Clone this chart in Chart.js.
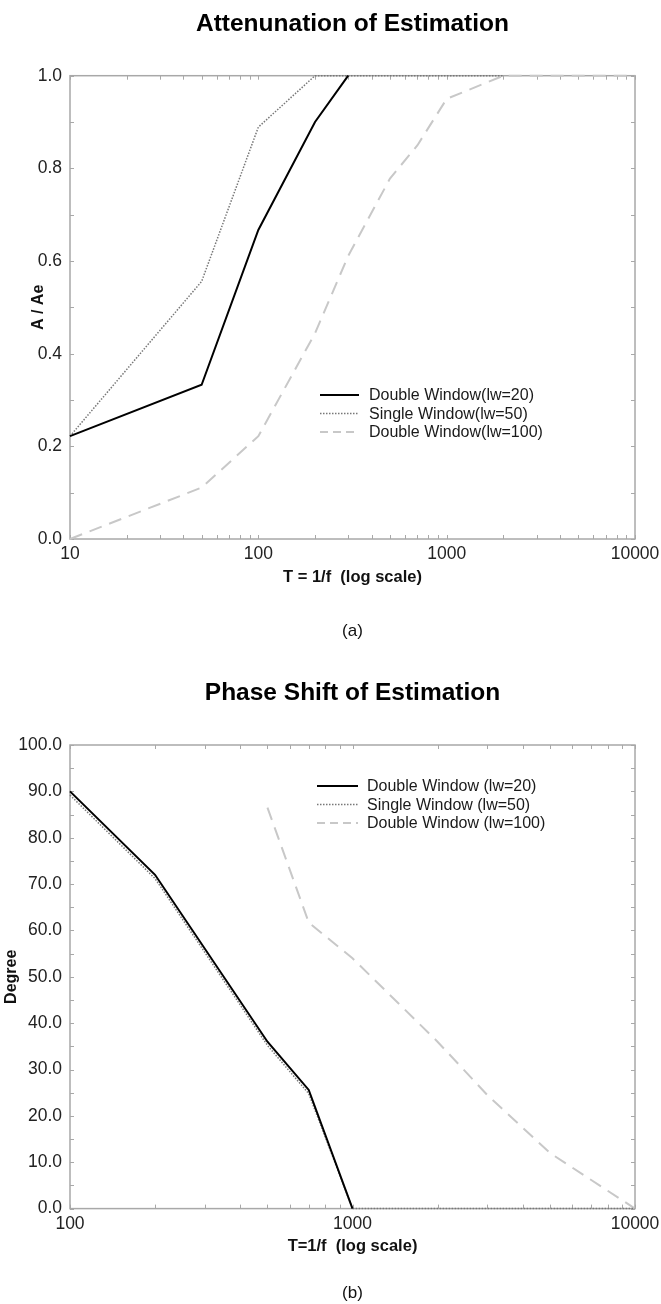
<!DOCTYPE html>
<html>
<head>
<meta charset="utf-8">
<script src="https://cdn.jsdelivr.net/npm/chart.js@4.4.1/dist/chart.umd.min.js"></script>
<style>
  body { margin: 0; background: #fff; }
  canvas { display: block; }
</style>
</head>
<body>
<canvas id="chartAtt" width="661" height="660"></canvas>
<canvas id="chartPhase" width="661" height="644"></canvas>
<script>
// (a) attenuation, A / Ae against period T
const attXTicks = [10, 100, 1000, 10000];
const attYTicks = [0, 0.2, 0.4, 0.6, 0.8, 1.0];
const attDouble20X = [10, 50, 100, 200, 300];
const attDouble20Y = [0.222, 0.333, 0.667, 0.9, 1.0];
const attSingle50X = [10, 50, 100, 200, 2000];
const attSingle50Y = [0.222, 0.556, 0.889, 1.0, 1.0];
const attDouble100X = [10, 50, 100, 200, 300, 500, 700, 1000, 2000, 10000];
const attDouble100Y = [0, 0.111, 0.222, 0.444, 0.611, 0.778, 0.85, 0.95, 1.0, 1.0];

// (b) phase shift in degrees
const phXTicks = [100, 1000, 10000];
const phYTicks = [0, 10, 20, 30, 40, 50, 60, 70, 80, 90, 100];
const phDouble20X = [100, 200, 500, 700, 1000];
const phDouble20Y = [90, 72, 36, 25.6, 0];
const phSingle50X = [100, 200, 500, 700, 1000, 10000];
const phSingle50Y = [89.2, 71.2, 35.2, 24.8, 0, 0];
const phDouble100X = [500, 700, 1000, 2000, 3000, 5000, 10000];
const phDouble100Y = [86.5, 61.7, 54, 36, 24.5, 12, 0];

Chart.defaults.font.family = '"Liberation Sans", Arial, Helvetica, sans-serif';
Chart.defaults.color = '#222';

function pts(xs, ys) {
    return xs.map((x, i) => ({ x: x, y: ys[i] }));
}

// log tick marks 1..9 per decade
function logMarks(lo, hi) {
    let out = [];
    for (let d = lo; d < hi; d *= 10) {
        for (let m = 1; m < 10; m++) out.push(d * m);
    }
    out.push(hi);
    return out;
}

// grey frame with inward ticks on all four sides
const frameTicks = {
    id: 'frameTicks',
    beforeDatasetsDraw(chart, args, opts) {
        const { ctx, chartArea: a } = chart;
        const sx = chart.scales.x, sy = chart.scales.y;
        ctx.save();
        ctx.strokeStyle = '#a8a8a8';
        ctx.lineWidth = 1.5;
        ctx.strokeRect(a.left, a.top, a.right - a.left, a.bottom - a.top);
        ctx.lineWidth = 1;
        ctx.beginPath();
        opts.xMarks.forEach(v => {
            const px = Math.round(sx.getPixelForValue(v)) + 0.5;
            ctx.moveTo(px, a.bottom); ctx.lineTo(px, a.bottom - 4);
            ctx.moveTo(px, a.top); ctx.lineTo(px, a.top + 4);
        });
        opts.yMarks.forEach(v => {
            const py = Math.round(sy.getPixelForValue(v)) + 0.5;
            ctx.moveTo(a.left, py); ctx.lineTo(a.left + 4, py);
            ctx.moveTo(a.right, py); ctx.lineTo(a.right - 4, py);
        });
        ctx.stroke();
        ctx.restore();
    }
};

// legend drawn inside the plot
const innerLegend = {
    id: 'innerLegend',
    afterDatasetsDraw(chart, args, opts) {
        const { ctx, chartArea: a } = chart;
        ctx.save();
        ctx.font = '16px "Liberation Sans", Arial, sans-serif';
        ctx.textBaseline = 'middle';
        chart.data.datasets.forEach((ds, i) => {
            const yy = a.top + opts.top + i * opts.rowGap;
            const x0 = a.left + opts.left;
            ctx.strokeStyle = ds.borderColor;
            ctx.lineWidth = ds.borderWidth;
            ctx.setLineDash(ds.legendDash || ds.borderDash || []);
            ctx.beginPath();
            ctx.moveTo(x0, yy);
            ctx.lineTo(x0 + opts.sample, yy);
            ctx.stroke();
            ctx.setLineDash([]);
            ctx.fillStyle = '#1a1a1a';
            ctx.fillText(ds.label, x0 + opts.sample + opts.gap, yy + 1);
        });
        ctx.restore();
    }
};

function makeChart(id, cfg) {
    return new Chart(document.getElementById(id), {
        type: 'line',
        data: {
            datasets: [
                { label: cfg.labels[0], data: cfg.series[0], borderColor: '#000', borderWidth: 2 },
                { label: cfg.labels[1], data: cfg.series[1], borderColor: '#787878', borderWidth: 1.5, borderDash: [1.5, 1.5] },
                { label: cfg.labels[2], data: cfg.series[2], borderColor: '#c8c8c8', borderWidth: 2, borderDash: [13, 8], legendDash: [8, 5] }
            ].map(d => Object.assign(d, { pointRadius: 0, tension: 0, fill: false, clip: false }))
        },
        options: {
            responsive: false,
            animation: false,
            layout: { padding: { left: 0, right: 26, top: 0, bottom: 0 } },
            scales: {
                x: {
                    type: 'logarithmic',
                    min: cfg.xTicks[0],
                    max: cfg.xTicks[cfg.xTicks.length - 1],
                    afterBuildTicks: s => { s.ticks = cfg.xTicks.map(v => ({ value: v })); },
                    afterFit: s => { s.height = 48; s.paddingLeft = 0; s.paddingRight = 0; },
                    grid: { display: false, drawTicks: false },
                    border: { display: false },
                    ticks: { padding: 5, autoSkip: false, maxRotation: 0, font: { size: 17.5 }, callback: v => String(v) },
                    title: { display: true, text: cfg.xTitle, color: '#111', font: { size: 16.5, weight: 'bold' }, padding: 0 }
                },
                y: {
                    type: 'linear',
                    min: cfg.yTicks[0],
                    max: cfg.yTicks[cfg.yTicks.length - 1],
                    afterBuildTicks: s => { s.ticks = cfg.yTicks.map(v => ({ value: v })); },
                    afterFit: s => { s.width = 70; },
                    grid: { display: false, drawTicks: false },
                    border: { display: false },
                    ticks: { padding: 8, font: { size: 17.5 }, callback: v => Number(v).toFixed(1) },
                    title: { display: true, text: cfg.yTitle, color: '#111', font: { size: 16, weight: 'bold' }, padding: { top: cfg.yTitlePad, bottom: 0 } }
                }
            },
            plugins: {
                legend: { display: false },
                tooltip: { enabled: false },
                title: { display: true, text: cfg.title, fullSize: false, color: '#000', font: { size: 24.5, weight: 'bold' }, padding: cfg.titlePad },
                subtitle: { display: true, position: 'bottom', text: cfg.caption, fullSize: false, color: '#111', font: { size: 17, weight: 'normal' }, padding: cfg.captionPad },
                frameTicks: { xMarks: cfg.xMarks, yMarks: cfg.yMarks },
                innerLegend: cfg.legend
            }
        },
        plugins: [frameTicks, innerLegend]
    });
}

makeChart('chartAtt', {
    title: 'Attenunation of Estimation',
    caption: '(a)',
    xTitle: 'T = 1/f  (log scale)',
    yTitle: 'A / Ae',
    xTicks: attXTicks,
    yTicks: attYTicks,
    xMarks: logMarks(10, 10000),
    yMarks: [0, 0.1, 0.2, 0.3, 0.4, 0.5, 0.6, 0.7, 0.8, 0.9, 1.0],
    labels: ['Double Window(lw=20)', 'Single Window(lw=50)', 'Double Window(lw=100)'],
    series: [pts(attDouble20X, attDouble20Y), pts(attSingle50X, attSingle50Y), pts(attDouble100X, attDouble100Y)],
    yTitlePad: 29,
    titlePad: { top: 9.3, bottom: 37 },
    captionPad: { top: 34, bottom: 18.6 },
    legend: { left: 250, top: 319.3, rowGap: 18.5, sample: 39, gap: 10 }
});

makeChart('chartPhase', {
    title: 'Phase Shift of Estimation',
    caption: '(b)',
    xTitle: 'T=1/f  (log scale)',
    yTitle: 'Degree',
    xTicks: phXTicks,
    yTicks: phYTicks,
    xMarks: logMarks(100, 10000),
    yMarks: [0, 5, 10, 15, 20, 25, 30, 35, 40, 45, 50, 55, 60, 65, 70, 75, 80, 85, 90, 95, 100],
    labels: ['Double Window (lw=20)', 'Single Window (lw=50)', 'Double Window (lw=100)'],
    series: [pts(phDouble20X, phDouble20Y), pts(phSingle50X, phSingle50Y), pts(phDouble100X, phDouble100Y)],
    yTitlePad: 2,
    titlePad: { top: 18.3, bottom: 37.3 },
    captionPad: { top: 27, bottom: 0 },
    legend: { left: 247, top: 41, rowGap: 18.5, sample: 41, gap: 9 }
});
</script>
</body>
</html>
